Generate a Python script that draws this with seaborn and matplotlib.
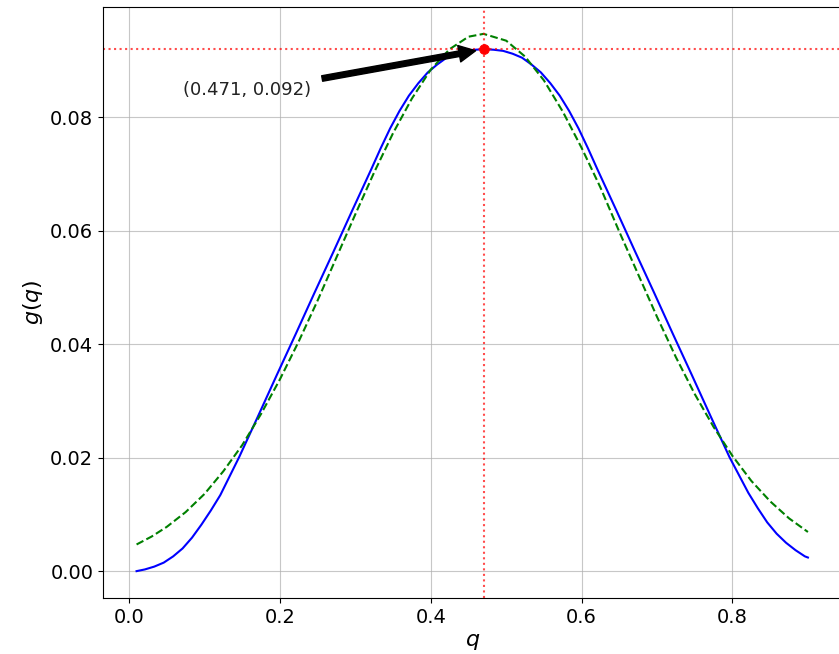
import matplotlib
matplotlib.use("Agg")
import matplotlib.pyplot as plt
import seaborn as sns
import numpy as np
import pandas as pd

# ---- data ----
q_blue = [0.010, 0.021, 0.0335, 0.046, 0.0585, 0.071, 0.0835, 0.096, 0.1085, 0.121,
          0.146, 0.171, 0.196, 0.221, 0.246, 0.271, 0.296, 0.321, 0.3335, 0.346,
          0.3585, 0.371, 0.3835, 0.396, 0.4085, 0.421, 0.4335, 0.446, 0.4585, 0.471,
          0.4835, 0.496, 0.5085, 0.521, 0.5335, 0.546, 0.5585, 0.571, 0.5835, 0.596,
          0.6085, 0.621, 0.646, 0.671, 0.696, 0.721, 0.746, 0.771, 0.796, 0.821,
          0.8335, 0.846, 0.8585, 0.871, 0.8835, 0.896, 0.900]
g_blue = [0.0000, 0.0003, 0.0008, 0.0015, 0.0026, 0.0040, 0.0059, 0.0082, 0.0107, 0.0134,
          0.0201, 0.0273, 0.0346, 0.0418, 0.0491, 0.0563, 0.0636, 0.0708, 0.0745, 0.0780,
          0.0811, 0.0838, 0.0860, 0.0879, 0.0893, 0.0905, 0.0912, 0.0917, 0.0919, 0.0920,
          0.0919, 0.0917, 0.0912, 0.0905, 0.0893, 0.0879, 0.0860, 0.0838, 0.0811, 0.0780,
          0.0745, 0.0708, 0.0636, 0.0563, 0.0491, 0.0418, 0.0346, 0.0273, 0.0201, 0.0138,
          0.0111, 0.0086, 0.0066, 0.0050, 0.0037, 0.0026, 0.0024]

q_green = [0.010, 0.030, 0.050, 0.075, 0.100, 0.125, 0.150, 0.175, 0.200, 0.225,
           0.250, 0.275, 0.300, 0.325, 0.350, 0.375, 0.400, 0.425, 0.450, 0.470,
           0.500, 0.525, 0.550, 0.575, 0.600, 0.625, 0.650, 0.675, 0.700, 0.725,
           0.750, 0.775, 0.800, 0.825, 0.850, 0.875, 0.900]
g_green = [0.0047, 0.0061, 0.0078, 0.0104, 0.0136, 0.0176, 0.0222, 0.0277, 0.0338, 0.0405,
           0.0477, 0.0553, 0.0629, 0.0703, 0.0772, 0.0833, 0.0884, 0.0920, 0.0942, 0.0947,
           0.0935, 0.0907, 0.0865, 0.0810, 0.0746, 0.0676, 0.0598, 0.0523, 0.0448, 0.0377,
           0.0312, 0.0254, 0.0203, 0.0159, 0.0123, 0.0093, 0.0069]

peak_q = 0.471
peak_g = 0.092
label_text = "(0.471, 0.092)"
label_q = 0.071
label_g = 0.084

# ---- figure ----
fig = plt.figure(figsize=(8.39, 6.54), dpi=100)
ax = fig.add_axes([103 / 839, 1 - 598 / 654, (841.5 - 103) / 839, (598 - 7) / 654])

sns.lineplot(x=q_blue, y=g_blue, ax=ax, color="blue", linewidth=1.5, sort=False)
sns.lineplot(x=q_green, y=g_green, ax=ax, color="green", linewidth=1.5,
             linestyle="--", sort=False)

ax.axvline(peak_q, color="red", linestyle=":", linewidth=1.5, alpha=0.7)
ax.axhline(peak_g, color="red", linestyle=":", linewidth=1.5, alpha=0.7)
sns.scatterplot(x=[peak_q], y=[peak_g], ax=ax, color="red", s=50, edgecolor="red",
                zorder=5)

ax.annotate(label_text, xy=(peak_q, peak_g), xytext=(label_q, label_g),
            fontsize=13, color="#222222",
            arrowprops=dict(facecolor="black", shrink=0.05))

ax.grid(True, color="#b0b0b0", linewidth=0.8, alpha=0.7)
ax.set_axisbelow(True)
ax.tick_params(labelsize=14)
ax.set_xlabel(r"$q$", fontsize=16)
ax.set_ylabel(r"$g(q)$", fontsize=16)

fig.savefig("out.png", dpi=100)
